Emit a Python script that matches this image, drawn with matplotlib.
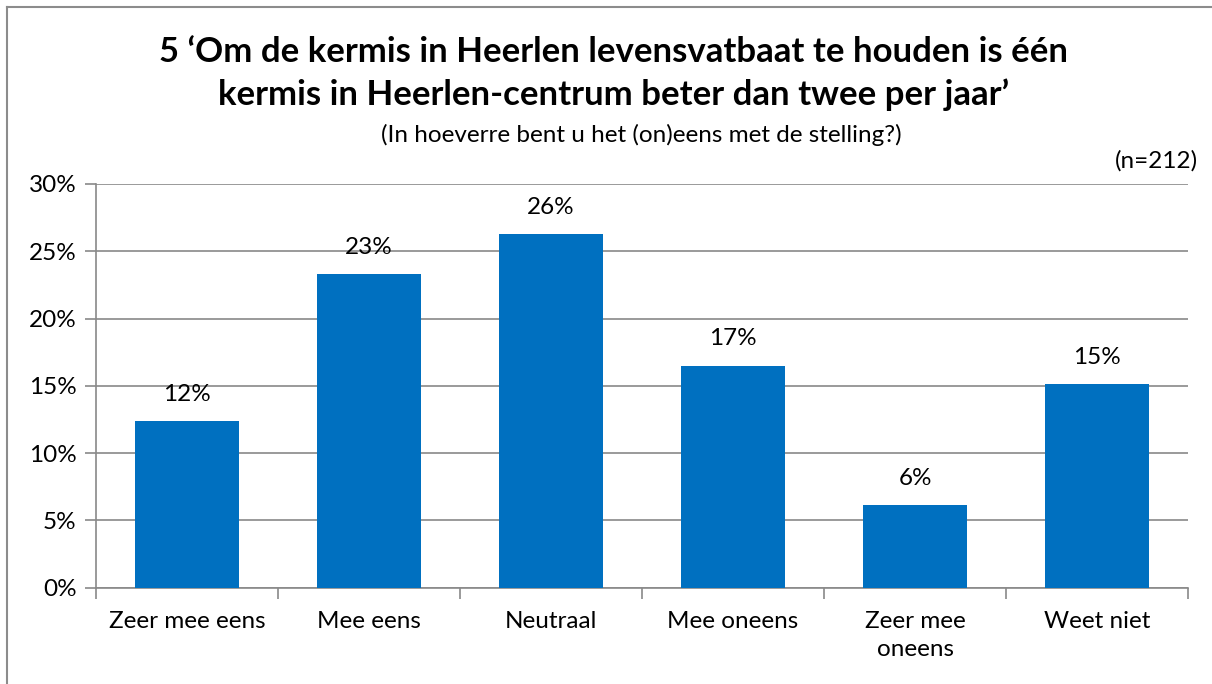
import matplotlib.pyplot as plt
from matplotlib.lines import Line2D
import numpy as np

# data
categories = ["Zeer mee eens", "Mee eens", "Neutraal", "Mee oneens", "Zeer mee\noneens", "Weet niet"]
values = [12.4, 23.3, 26.3, 16.5, 6.1, 15.1]
labels = ["12%", "23%", "26%", "17%", "6%", "15%"]
yticks = [0, 5, 10, 15, 20, 25, 30]

plt.rcParams['font.family'] = ['Lato', 'DejaVu Sans']
grid_col = '#898989'
fs = 17.5

fig = plt.figure(figsize=(12.12, 6.84), dpi=100)
ax = fig.add_axes([96 / 1212, 1 - 587.5 / 684, (1188 - 96) / 1212, (587.5 - 184) / 684])

x = np.arange(len(categories))
ax.bar(x, values, width=0.57, color='#0070C0', zorder=3)
for xi, v, lab in zip(x, values, labels):
    ax.text(xi, v + 1.2, lab, ha='center', va='bottom', fontsize=fs, color='black')

ax.set_xlim(-0.5, len(categories) - 0.5)
ax.set_ylim(0, 30)
ax.set_yticks(yticks)
ax.set_yticklabels([f"{t}%" for t in yticks], fontsize=fs)
ax.yaxis.grid(True, color=grid_col, linewidth=1.2, zorder=0)
ax.set_xticks(x)
ax.set_xticklabels(categories, fontsize=fs, linespacing=1.4)
ax.set_xticks(np.arange(-0.5, len(categories)), minor=True)
ax.tick_params(axis='x', which='major', length=0, pad=17)
ax.tick_params(axis='x', which='minor', length=8, color=grid_col, width=1.2)
ax.tick_params(axis='y', length=8, color=grid_col, width=1.2, pad=6)
for s in ['top', 'right']:
    ax.spines[s].set_visible(False)
for s in ['left', 'bottom']:
    ax.spines[s].set_color(grid_col)
    ax.spines[s].set_linewidth(1.2)

fig.text(0.506, 1 - 52 / 684, "5 \u2018Om de kermis in Heerlen levensvatbaat te houden is \u00e9\u00e9n",
         ha='center', va='center', fontsize=25, fontweight='bold')
fig.text(0.506, 1 - 95 / 684, "kermis in Heerlen-centrum beter dan twee per jaar\u2019",
         ha='center', va='center', fontsize=25, fontweight='bold')
fig.text(0.529, 1 - 135 / 684, "(In hoeverre bent u het (on)eens met de stelling?)",
         ha='center', va='center', fontsize=fs)
fig.text(1198 / 1212, 1 - 161 / 684, "(n=212)", ha='right', va='center', fontsize=fs)

# chart frame (left and top edges visible in the reference)
fig.add_artist(Line2D([7 / 1212, 7 / 1212], [0, 1 - 7 / 684], color='#8c8c8c', linewidth=1.5))
fig.add_artist(Line2D([7 / 1212, 1], [1 - 7 / 684, 1 - 7 / 684], color='#8c8c8c', linewidth=1.5))

fig.savefig('out.png', dpi=100)
